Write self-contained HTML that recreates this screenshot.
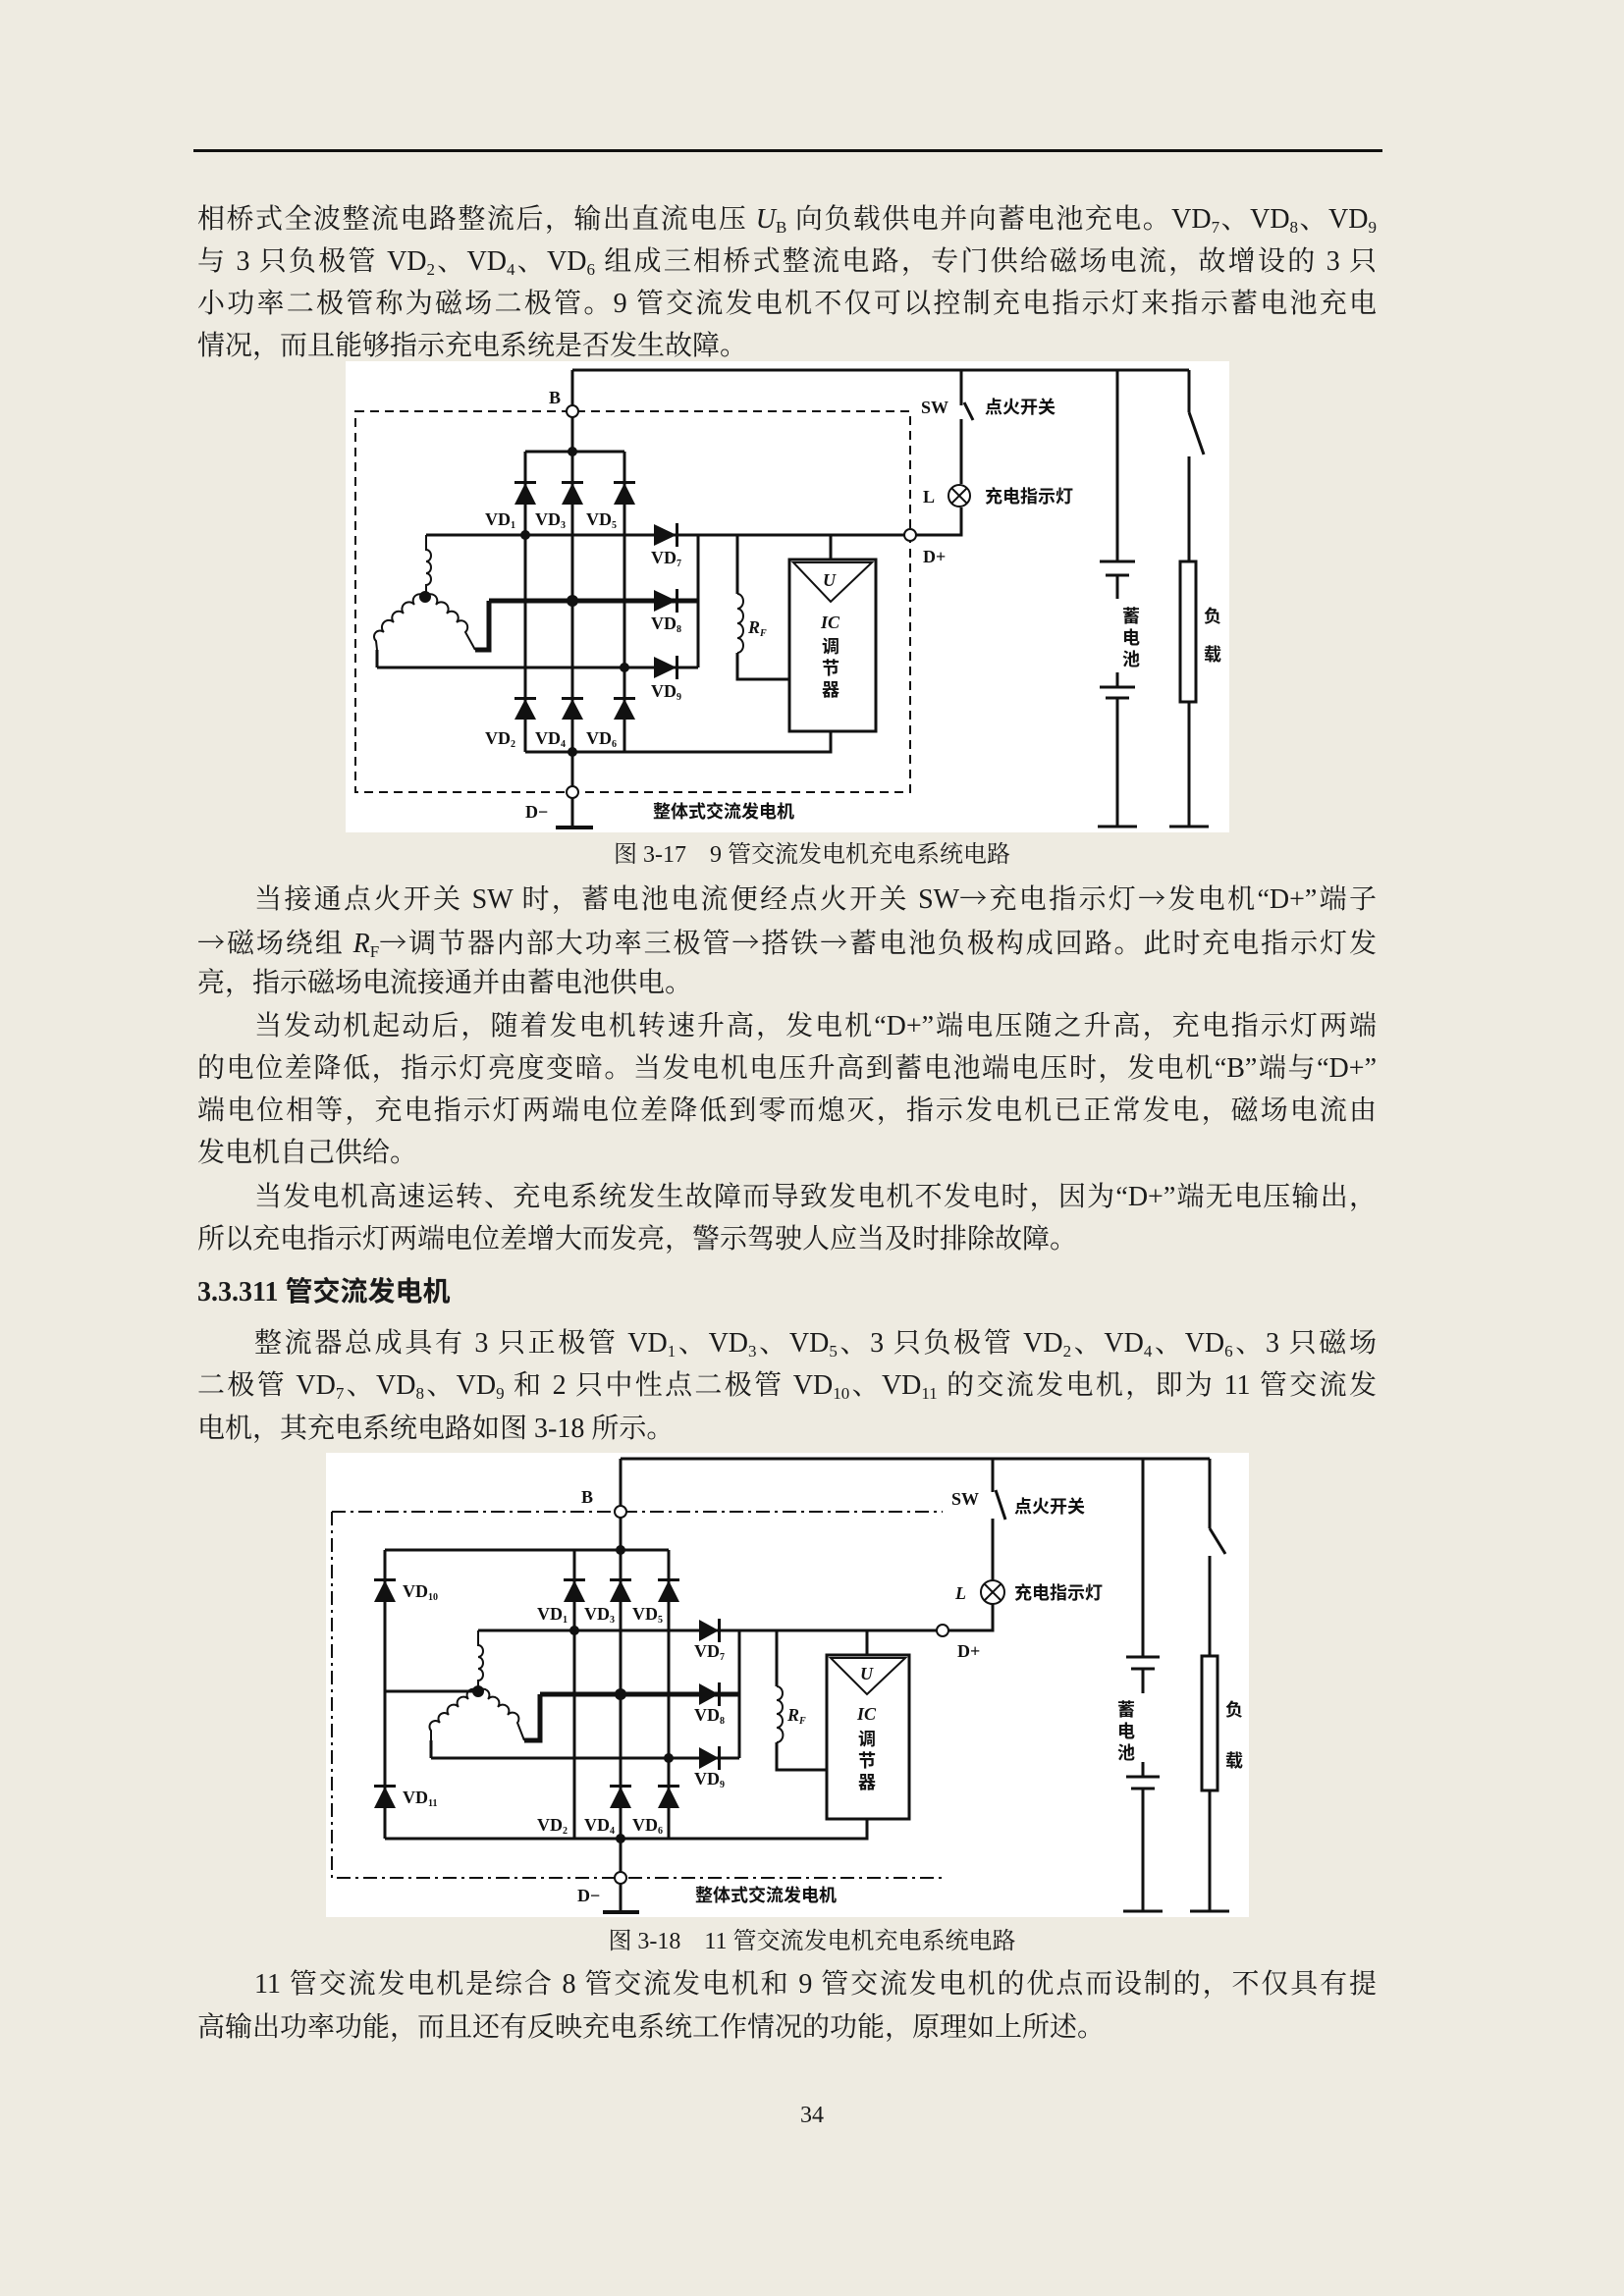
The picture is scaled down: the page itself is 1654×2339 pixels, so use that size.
<!DOCTYPE html>
<html><head><meta charset="utf-8">
<style>
html,body{margin:0;padding:0}
body{width:1654px;height:2339px;background:#eeebe1;position:relative;overflow:hidden;font-family:"Liberation Serif","Noto Serif CJK SC",serif;color:#1a1a1a}
.l{position:absolute;left:201px;width:1201px;height:40px;line-height:40px;font-size:28px;text-align:justify;text-align-last:justify;white-space:nowrap}
.l.s{text-align-last:left}
.i{left:259px;width:1143px}
.c{position:absolute;left:0;width:1654px;text-align:center;font-size:24px;line-height:32px}
sub{font-size:17px;vertical-align:-5px;line-height:0}
.a{font-family:"Noto Serif CJK SC",serif}
svg{position:absolute;left:0;top:0}
svg text{font-family:"Liberation Serif","Noto Sans CJK SC",serif;font-size:18px;fill:#111}
</style></head><body>
<div style="position:absolute;left:197px;top:152px;width:1211px;height:3px;background:#111"></div>

<div class="l" style="top:204px">相桥式全波整流电路整流后，输出直流电压 <i>U</i><sub>B</sub> 向负载供电并向蓄电池充电。VD<sub>7</sub>、VD<sub>8</sub>、VD<sub>9</sub></div>
<div class="l" style="top:247px">与 3 只负极管 VD<sub>2</sub>、VD<sub>4</sub>、VD<sub>6</sub> 组成三相桥式整流电路，专门供给磁场电流，故增设的 3 只</div>
<div class="l" style="top:290px">小功率二极管称为磁场二极管。9 管交流发电机不仅可以控制充电指示灯来指示蓄电池充电</div>
<div class="l s" style="top:333px">情况，而且能够指示充电系统是否发生故障。</div>

<div class="c" style="top:855px">图 3-17　9 管交流发电机充电系统电路</div>

<div class="l i" style="top:894px">当接通点火开关 SW 时，蓄电池电流便经点火开关 SW<span class="a">→</span>充电指示灯<span class="a">→</span>发电机“D+”端子</div>
<div class="l" style="top:939px"><span class="a">→</span>磁场绕组 <i>R</i><sub>F</sub><span class="a">→</span>调节器内部大功率三极管<span class="a">→</span>搭铁<span class="a">→</span>蓄电池负极构成回路。此时充电指示灯发</div>
<div class="l s" style="top:982px">亮，指示磁场电流接通并由蓄电池供电。</div>
<div class="l i" style="top:1026px">当发动机起动后，随着发电机转速升高，发电机“D+”端电压随之升高，充电指示灯两端</div>
<div class="l" style="top:1069px">的电位差降低，指示灯亮度变暗。当发电机电压升高到蓄电池端电压时，发电机“B”端与“D+”</div>
<div class="l" style="top:1112px">端电位相等，充电指示灯两端电位差降低到零而熄灭，指示发电机已正常发电，磁场电流由</div>
<div class="l s" style="top:1155px">发电机自己供给。</div>
<div class="l i" style="top:1200px">当发电机高速运转、充电系统发生故障而导致发电机不发电时，因为“D+”端无电压输出，</div>
<div class="l s" style="top:1243px">所以充电指示灯两端电位差增大而发亮，警示驾驶人应当及时排除故障。</div>
<div class="l s" style="top:1297px;font-weight:bold;font-family:'Liberation Serif','Noto Sans CJK SC',sans-serif">3.3.311 管交流发电机</div>
<div class="l i" style="top:1349px">整流器总成具有 3 只正极管 VD<sub>1</sub>、VD<sub>3</sub>、VD<sub>5</sub>、3 只负极管 VD<sub>2</sub>、VD<sub>4</sub>、VD<sub>6</sub>、3 只磁场</div>
<div class="l" style="top:1392px">二极管 VD<sub>7</sub>、VD<sub>8</sub>、VD<sub>9</sub> 和 2 只中性点二极管 VD<sub>10</sub>、VD<sub>11</sub> 的交流发电机，即为 11 管交流发</div>
<div class="l s" style="top:1436px">电机，其充电系统电路如图 3-18 所示。</div>

<div class="c" style="top:1962px">图 3-18　11 管交流发电机充电系统电路</div>

<div class="l i" style="top:2002px">11 管交流发电机是综合 8 管交流发电机和 9 管交流发电机的优点而设制的，不仅具有提</div>
<div class="l s" style="top:2046px">高输出功率功能，而且还有反映充电系统工作情况的功能，原理如上所述。</div>
<div class="c" style="top:2139px;left:0">34</div>

<svg width="1654" height="2339" viewBox="0 0 1654 2339">
<rect x="352" y="368" width="900" height="480" fill="#fff"/>
<g stroke="#111" stroke-width="3" fill="none">
<path d="M583 377H1211"/>
<rect x="362" y="419" width="565" height="388" stroke-width="2" stroke-dasharray="9 6"/>
<path d="M583 377V843M535 460H636M535 460V766M636 460V766M535 766H846V745"/>
<path d="M434 545H927M711 545V680M751 545V605M751 665V692H804M846 545V570"/>
<path d="M498 612H711M498 612V662H484" stroke-width="5"/>
<path d="M384 680H711M384 662V680"/>
<rect x="804" y="570" width="88" height="175"/>
<path d="M808 573H888L846 613Z" stroke-width="2"/>
<path d="M566 843H604" stroke-width="4"/>
<path d="M979 377V413M982 410L991 428M979 427V493M979 517V545H932"/>
<path d="M1138 377V572M1120 572H1156M1126 586H1150M1138 586V610M1138 685V700M1120 700H1156M1126 711H1150M1138 711V842M1118 842H1158"/>
<path d="M1211 377V420M1211 420L1226 463M1211 465V572M1211 715V842M1191 842H1231"/>
<rect x="1202" y="572" width="16" height="143"/>
<path d="M434 545V560a5 6 0 0 1 0 12a5 6 0 0 1 0 12a5 6 0 0 1 0 12V608" stroke-width="2"/>
<path d="M751 605a6 7.5 0 0 1 0 15a6 7.5 0 0 1 0 15a6 7.5 0 0 1 0 15a6 7.5 0 0 1 0 15" stroke-width="2"/>
<path d="M433 608a6 6 0 0 0 -11 8a6 6 0 0 0 -11 9a6 6 0 0 0 -10 9a6 6 0 0 0 -10 10a6 6 0 0 0 -8 9L384 662" stroke-width="2"/>
<path d="M433 608a6 6 0 0 1 11 8a6 6 0 0 1 11 9a6 6 0 0 1 10 9a6 6 0 0 1 9 10L484 662" stroke-width="2"/>
<circle cx="977" cy="505" r="11" fill="#fff" stroke-width="2"/>
<path d="M969 497L985 513M985 497L969 513" stroke-width="2"/>
</g>
<g fill="#111">
<circle cx="583" cy="460" r="5"/><circle cx="535" cy="545" r="5"/><circle cx="583" cy="612" r="6"/><circle cx="636" cy="680" r="5"/><circle cx="583" cy="766" r="5"/><circle cx="433" cy="608" r="6"/>
<polygon points="524,514 546,514 535,492"/><polygon points="572,514 594,514 583,492"/><polygon points="625,514 647,514 636,492"/>
<rect x="524" y="490" width="22" height="3"/><rect x="572" y="490" width="22" height="3"/><rect x="625" y="490" width="22" height="3"/>
<polygon points="524,733 546,733 535,712"/><polygon points="572,733 594,733 583,712"/><polygon points="625,733 647,733 636,712"/>
<rect x="524" y="710" width="22" height="3"/><rect x="572" y="710" width="22" height="3"/><rect x="625" y="710" width="22" height="3"/>
<polygon points="666,534 666,556 689,545"/><polygon points="666,601 666,623 689,612"/><polygon points="666,669 666,691 689,680"/>
<rect x="688" y="533" width="3" height="24"/><rect x="688" y="600" width="3" height="24"/><rect x="688" y="668" width="3" height="24"/>
</g>
<g fill="#fff" stroke="#111" stroke-width="2"><circle cx="583" cy="419" r="6"/><circle cx="583" cy="807" r="6"/><circle cx="927" cy="545" r="6"/></g>
<g font-weight="bold">
<text x="559" y="411">B</text><text x="535" y="833">D−</text>
<text x="494" y="535" font-size="16">VD<tspan font-size="10" dy="3">1</tspan></text>
<text x="545" y="535" font-size="16">VD<tspan font-size="10" dy="3">3</tspan></text>
<text x="597" y="535" font-size="16">VD<tspan font-size="10" dy="3">5</tspan></text>
<text x="494" y="758" font-size="16">VD<tspan font-size="10" dy="3">2</tspan></text>
<text x="545" y="758" font-size="16">VD<tspan font-size="10" dy="3">4</tspan></text>
<text x="597" y="758" font-size="16">VD<tspan font-size="10" dy="3">6</tspan></text>
<text x="663" y="574" font-size="16">VD<tspan font-size="10" dy="3">7</tspan></text>
<text x="663" y="641" font-size="16">VD<tspan font-size="10" dy="3">8</tspan></text>
<text x="663" y="710" font-size="16">VD<tspan font-size="10" dy="3">9</tspan></text>
<text x="762" y="645" font-style="italic" font-size="16">R<tspan font-size="10" dy="3">F</tspan></text>
<text x="838" y="597" font-style="italic" font-size="17">U</text>
<text x="836" y="640" font-style="italic" font-size="17">IC</text>
<text x="837" y="665" font-size="18">调</text><text x="837" y="687" font-size="18">节</text><text x="837" y="709" font-size="18">器</text>
<text x="938" y="421">SW</text><text x="1003" y="421" font-size="17">点火开关</text>
<text x="940" y="512">L</text><text x="1003" y="512" font-size="17">充电指示灯</text>
<text x="940" y="573">D+</text>
<text x="665" y="833" font-size="17">整体式交流发电机</text>
<text x="1143" y="634" font-size="18">蓄</text><text x="1143" y="656" font-size="18">电</text><text x="1143" y="678" font-size="18">池</text>
<text x="1226" y="634" font-size="18">负</text><text x="1226" y="673" font-size="18">载</text>
</g>

<rect x="332" y="1480" width="940" height="473" fill="#fff"/>
<g stroke="#111" stroke-width="3" fill="none">
<path d="M632 1486H1232"/>
<path d="M338 1540H960M338 1540V1913H960" stroke-width="2" stroke-dasharray="14 5 3 5"/>
<path d="M632 1486V1948M392 1579H681M392 1579V1873M585 1579V1873M681 1579V1873M392 1873H883V1853"/>
<path d="M487 1661H960M753 1661V1791M791 1661V1718M791 1775V1803H842M883 1661V1686"/>
<path d="M392 1723H487"/>
<path d="M550 1726H753M550 1726V1773H534" stroke-width="5"/>
<path d="M439 1791H753M439 1773V1791"/>
<rect x="842" y="1686" width="84" height="167"/>
<path d="M846 1689H922L883 1726Z" stroke-width="2"/>
<path d="M614 1948H651" stroke-width="4"/>
<path d="M1011 1486V1520M1014 1518L1024 1548M1011 1547V1610M1011 1634V1661H966"/>
<path d="M1164 1486V1688M1147 1688H1181M1152 1700H1176M1164 1700V1725M1164 1795V1810M1147 1810H1181M1152 1822H1176M1164 1822V1947M1144 1947H1184"/>
<path d="M1232 1486V1557M1232 1557L1248 1583M1232 1585V1687M1232 1824V1947M1212 1947H1252"/>
<rect x="1224" y="1687" width="16" height="137"/>
<path d="M487 1661V1676a5 6 0 0 1 0 12a5 6 0 0 1 0 12a5 6 0 0 1 0 12V1723" stroke-width="2"/>
<path d="M791 1718a6 7 0 0 1 0 14a6 7 0 0 1 0 14a6 7 0 0 1 0 14a6 7 0 0 1 0 15" stroke-width="2"/>
<path d="M487 1723a6 6 0 0 0 -10 8a6 6 0 0 0 -10 8a6 6 0 0 0 -10 8a6 6 0 0 0 -9 8a5 5 0 0 0 -9 8L439 1773" stroke-width="2"/>
<path d="M487 1723a6 6 0 0 1 10 8a6 6 0 0 1 10 8a6 6 0 0 1 10 8a6 6 0 0 1 10 8L534 1773" stroke-width="2"/>
<circle cx="1011" cy="1622" r="12" fill="#fff" stroke-width="2"/>
<path d="M1003 1614L1019 1630M1019 1614L1003 1630" stroke-width="2"/>
</g>
<g fill="#111">
<circle cx="632" cy="1579" r="5"/><circle cx="585" cy="1661" r="5"/><circle cx="632" cy="1726" r="6"/><circle cx="681" cy="1791" r="5"/><circle cx="632" cy="1873" r="5"/><circle cx="487" cy="1723" r="6"/>
<polygon points="381,1632 403,1632 392,1610"/><polygon points="574,1632 596,1632 585,1610"/><polygon points="621,1632 643,1632 632,1610"/><polygon points="670,1632 692,1632 681,1610"/>
<rect x="381" y="1608" width="22" height="3"/><rect x="574" y="1608" width="22" height="3"/><rect x="621" y="1608" width="22" height="3"/><rect x="670" y="1608" width="22" height="3"/>
<polygon points="381,1842 403,1842 392,1820"/><polygon points="621,1842 643,1842 632,1820"/><polygon points="670,1842 692,1842 681,1820"/>
<rect x="381" y="1818" width="22" height="3"/><rect x="621" y="1818" width="22" height="3"/><rect x="670" y="1818" width="22" height="3"/>
<polygon points="712,1650 712,1672 732,1661"/><polygon points="712,1715 712,1737 732,1726"/><polygon points="712,1780 712,1802 732,1791"/>
<rect x="731" y="1649" width="3" height="24"/><rect x="731" y="1714" width="3" height="24"/><rect x="731" y="1779" width="3" height="24"/>
</g>
<g fill="#fff" stroke="#111" stroke-width="2"><circle cx="632" cy="1540" r="6"/><circle cx="632" cy="1913" r="6"/><circle cx="960" cy="1661" r="6"/></g>
<g font-weight="bold">
<text x="592" y="1531">B</text><text x="588" y="1937">D−</text>
<text x="410" y="1627" font-size="16">VD<tspan font-size="10" dy="3">10</tspan></text>
<text x="410" y="1837" font-size="16">VD<tspan font-size="10" dy="3">11</tspan></text>
<text x="547" y="1650" font-size="16">VD<tspan font-size="10" dy="3">1</tspan></text>
<text x="595" y="1650" font-size="16">VD<tspan font-size="10" dy="3">3</tspan></text>
<text x="644" y="1650" font-size="16">VD<tspan font-size="10" dy="3">5</tspan></text>
<text x="547" y="1865" font-size="16">VD<tspan font-size="10" dy="3">2</tspan></text>
<text x="595" y="1865" font-size="16">VD<tspan font-size="10" dy="3">4</tspan></text>
<text x="644" y="1865" font-size="16">VD<tspan font-size="10" dy="3">6</tspan></text>
<text x="707" y="1688" font-size="16">VD<tspan font-size="10" dy="3">7</tspan></text>
<text x="707" y="1753" font-size="16">VD<tspan font-size="10" dy="3">8</tspan></text>
<text x="707" y="1818" font-size="16">VD<tspan font-size="10" dy="3">9</tspan></text>
<text x="802" y="1753" font-style="italic" font-size="16">R<tspan font-size="10" dy="3">F</tspan></text>
<text x="876" y="1711" font-style="italic" font-size="17">U</text>
<text x="873" y="1752" font-style="italic" font-size="17">IC</text>
<text x="874" y="1778" font-size="18">调</text><text x="874" y="1800" font-size="18">节</text><text x="874" y="1822" font-size="18">器</text>
<text x="969" y="1533">SW</text><text x="1033" y="1541" font-size="17">点火开关</text>
<text x="973" y="1629" font-style="italic">L</text><text x="1033" y="1629" font-size="17">充电指示灯</text>
<text x="975" y="1688">D+</text>
<text x="708" y="1937" font-size="17">整体式交流发电机</text>
<text x="1138" y="1748" font-size="18">蓄</text><text x="1138" y="1770" font-size="18">电</text><text x="1138" y="1792" font-size="18">池</text>
<text x="1248" y="1748" font-size="18">负</text><text x="1248" y="1800" font-size="18">载</text>
</g>
</svg>
</body></html>
